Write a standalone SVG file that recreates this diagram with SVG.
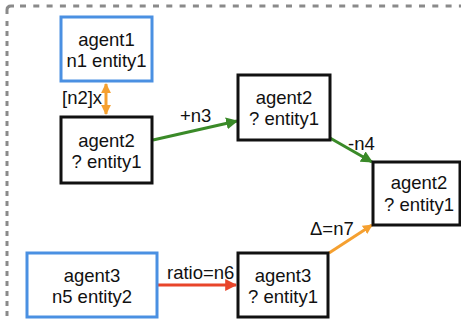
<svg xmlns="http://www.w3.org/2000/svg" width="461" height="320" viewBox="0 0 461 320">
  <style>
    text { font-family: "Liberation Sans", Arial, Helvetica, sans-serif; font-size: 18.5px; fill: #111; }
    .node text { text-anchor: middle; }
    .box { fill: #fff; stroke-width: 3; }
    .blue { stroke: #4a90e2; }
    .black { stroke: #111; }
    .frame { fill: none; stroke: #8a8a8a; stroke-width: 3; }
    .edge { fill: none; stroke-width: 3; }
  </style>
  <defs>
    <marker id="headGreen" viewBox="0 0 10 10" refX="9" refY="5" markerWidth="4" markerHeight="4" orient="auto" markerUnits="strokeWidth">
      <path d="M0,0 L10,5 L0,10 Z" fill="#3a8a28"/>
    </marker>
    <marker id="headOrange" viewBox="0 0 10 10" refX="9" refY="5" markerWidth="3.3" markerHeight="3.3" orient="auto-start-reverse" markerUnits="strokeWidth">
      <path d="M0,0 L10,5 L0,10 Z" fill="#f5a030"/>
    </marker>
    <marker id="headRed" viewBox="0 0 10 10" refX="9" refY="5" markerWidth="4" markerHeight="4" orient="auto" markerUnits="strokeWidth">
      <path d="M0,0 L10,5 L0,10 Z" fill="#e8452a"/>
    </marker>
  </defs>

  <!-- dashed enclosing frame (open to the right and bottom) -->
  <g id="frame">
    <path class="frame" d="M7,14 V10 Q7,6 11,6 H14"/>
    <line class="frame" x1="20" y1="6" x2="461" y2="6" stroke-dasharray="6 7.3"/>
    <line class="frame" x1="7" y1="21" x2="7" y2="320" stroke-dasharray="5 5"/>
  </g>

  <!-- connectors -->
  <g id="connectors">
    <line class="edge" x1="106" y1="84" x2="106" y2="114" stroke="#f5a030" marker-start="url(#headOrange)" marker-end="url(#headOrange)"/>
    <line class="edge" x1="153" y1="140" x2="237" y2="121" stroke="#3a8a28" marker-end="url(#headGreen)"/>
    <line class="edge" x1="330" y1="138" x2="372" y2="162" stroke="#3a8a28" marker-end="url(#headGreen)"/>
    <line class="edge" x1="329" y1="253" x2="372" y2="225" stroke="#f5a030" marker-end="url(#headOrange)"/>
    <line class="edge" x1="158" y1="285" x2="236" y2="285" stroke="#e8452a" marker-end="url(#headRed)"/>
    <text x="62" y="104">[n2]x</text>
    <text x="180" y="122">+n3</text>
    <text x="348" y="150">-n4</text>
    <text x="310" y="235">Δ=n7</text>
    <text x="167" y="279">ratio=n6</text>
  </g>

  <g id="agent1-n1" class="node">
    <rect class="box blue" x="61" y="17" width="91" height="64"/>
    <text x="106.5" y="46">agent1</text>
    <text x="106.5" y="67">n1 entity1</text>
  </g>

  <g id="agent2-left" class="node">
    <rect class="box black" x="61" y="117" width="91" height="66"/>
    <text x="106.5" y="147">agent2</text>
    <text x="106.5" y="168">? entity1</text>
  </g>

  <g id="agent2-mid" class="node">
    <rect class="box black" x="238" y="75" width="92" height="65"/>
    <text x="284" y="104">agent2</text>
    <text x="284" y="125">? entity1</text>
  </g>

  <g id="agent2-right" class="node">
    <rect class="box black" x="373" y="162" width="87" height="63"/>
    <text x="419" y="189">agent2</text>
    <text x="419" y="211">? entity1</text>
  </g>

  <g id="agent3-n5" class="node">
    <rect class="box blue" x="27" y="253" width="130" height="64"/>
    <text x="92" y="282">agent3</text>
    <text x="92" y="303">n5 entity2</text>
  </g>

  <g id="agent3-mid" class="node">
    <rect class="box black" x="238" y="253" width="90" height="64"/>
    <text x="283" y="282">agent3</text>
    <text x="283" y="303">? entity1</text>
  </g>
</svg>
